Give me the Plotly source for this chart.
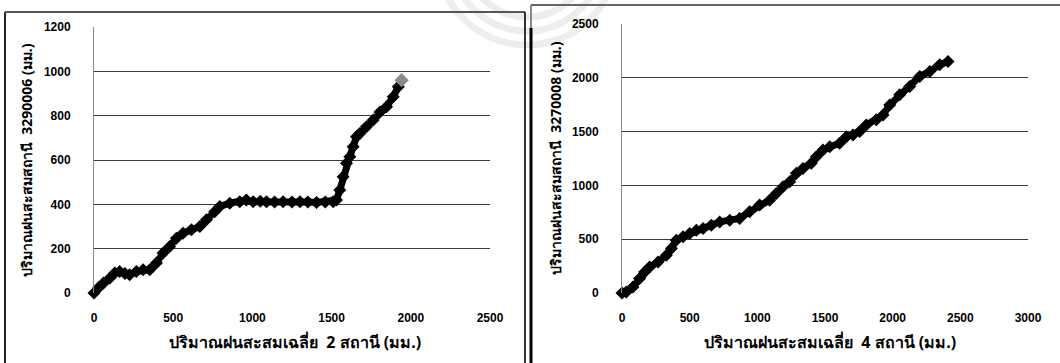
import plotly.graph_objects as go

W, H = 1060, 363

# ---- Data ----
left_x = [0, 30, 60, 99, 131, 162, 195, 225, 267, 310, 352, 394, 436, 478, 520, 562, 615, 668,
          710, 762, 794, 857, 920, 962, 1005, 1050, 1089, 1140, 1194, 1250, 1300, 1350, 1405,
          1460, 1510, 1531, 1552, 1573, 1594, 1615, 1636, 1657, 1678, 1720, 1763, 1805, 1847,
          1889, 1921]
left_y = [0, 25, 45, 67, 90, 97, 88, 82, 97, 105, 105, 135, 180, 210, 247, 270, 285, 300,
          330, 367, 390, 405, 412, 420, 412, 414, 412, 410, 412, 410, 412, 410, 408,
          410, 412, 420, 465, 525, 585, 615, 660, 705, 720, 750, 780, 817, 840,
          885, 930]
left_last_x = [1942]
left_last_y = [960]

right_x = [0, 32, 81, 130, 167, 204, 266, 328, 365, 401, 451, 500, 549, 599, 660, 722, 796,
           869, 943, 1017, 1091, 1140, 1190, 1239, 1288, 1337, 1399, 1436, 1485, 1535, 1608,
           1658, 1707, 1756, 1805, 1879, 1929, 1978, 2052, 2126, 2200, 2274, 2347, 2409]
right_y = [0, 9, 56, 134, 196, 242, 289, 351, 413, 491, 522, 553, 584, 599, 630, 661, 677,
           693, 755, 817, 863, 925, 988, 1034, 1112, 1158, 1205, 1267, 1329, 1360, 1391,
           1453, 1469, 1500, 1562, 1609, 1655, 1748, 1842, 1919, 2012, 2059, 2121, 2152]

left_xtitle = "ปริมาณฝนสะสมเฉลี่ย  2 สถานี (มม.)"
left_ytitle = "ปริมาณฝนสะสมสถานี  3290006 (มม.)"
right_xtitle = "ปริมาณฝนสะสมเฉลี่ย  4 สถานี (มม.)"
right_ytitle = "ปริมาณฝนสะสมสถานี  3270008 (มม.)"


def px(x):
    return x / W


def py(y):
    return 1 - y / H


fig = go.Figure()

mk = dict(symbol="diamond", size=10, color="black")
fig.add_trace(go.Scatter(x=left_x, y=left_y, mode="lines+markers", marker=mk,
                         line=dict(color="black", width=7), xaxis="x", yaxis="y",
                         showlegend=False, hoverinfo="skip", cliponaxis=False))
fig.add_trace(go.Scatter(x=left_last_x, y=left_last_y, mode="markers",
                         marker=dict(symbol="diamond", size=11, color="#8a8a8a"),
                         xaxis="x", yaxis="y", showlegend=False, hoverinfo="skip"))
fig.add_trace(go.Scatter(x=right_x, y=right_y, mode="lines+markers", marker=mk,
                         line=dict(color="black", width=7), xaxis="x2", yaxis="y2",
                         showlegend=False, hoverinfo="skip", cliponaxis=False))

tickf = dict(family="Liberation Sans", size=12, color="black", weight="bold")
common_x = dict(showgrid=False, zeroline=False, showline=False, ticks="", automargin=False,
                tickfont=tickf, ticklabelstandoff=16, fixedrange=True)
common_y = dict(showgrid=True, gridcolor="#3a3a3a", gridwidth=1, zeroline=False, automargin=False,
                showline=True, linecolor="#8a8a8a", linewidth=1, ticks="",
                tickfont=tickf, ticklabelstandoff=20, fixedrange=True)

fig.update_layout(
    width=W, height=H,
    margin=dict(l=0, r=0, t=0, b=0),
    paper_bgcolor="white", plot_bgcolor="white",
    xaxis=dict(domain=[px(94), px(490)], range=[0, 2500], tickvals=[0, 500, 1000, 1500, 2000, 2500],
               anchor="y", **common_x),
    yaxis=dict(domain=[py(293), py(27)], range=[0, 1200], tickvals=[0, 200, 400, 600, 800, 1000, 1200],
               anchor="x", **common_y),
    xaxis2=dict(domain=[px(622), px(1028)], range=[0, 3000],
                tickvals=[0, 500, 1000, 1500, 2000, 2500, 3000], anchor="y2", **common_x),
    yaxis2=dict(domain=[py(293), py(24)], range=[0, 2500], tickvals=[0, 500, 1000, 1500, 2000, 2500],
                anchor="x2", **common_y),
)

xtf = dict(family="Noto Sans, DejaVu Sans, sans-serif", size=16, color="black", weight="bold")
ytf = dict(family="Noto Sans, DejaVu Sans, sans-serif", size=14, color="black", weight="bold")
annots = [
    dict(text=left_xtitle, x=px(295), y=py(342), xref="paper", yref="paper", showarrow=False,
         font=xtf, xanchor="center", yanchor="middle"),
    dict(text=right_xtitle, x=px(830), y=py(342), xref="paper", yref="paper", showarrow=False,
         font=xtf, xanchor="center", yanchor="middle"),
    dict(text=left_ytitle, x=px(26), y=py(160), xref="paper", yref="paper", showarrow=False,
         font=ytf, textangle=-90, xanchor="center", yanchor="middle"),
    dict(text=right_ytitle, x=px(556), y=py(158), xref="paper", yref="paper", showarrow=False,
         font=ytf, textangle=-90, xanchor="center", yanchor="middle"),
]
fig.update_layout(annotations=annots)

# panel frames
shapes = []
def vline(x, y0, y1, w=2, c="black"):
    shapes.append(dict(type="line", xref="paper", yref="paper", x0=px(x), x1=px(x),
                       y0=py(y0), y1=py(y1), line=dict(color=c, width=w)))
def hline(y, x0, x1, w=2, c="black"):
    shapes.append(dict(type="line", xref="paper", yref="paper", x0=px(x0), x1=px(x1),
                       y0=py(y), y1=py(y), line=dict(color=c, width=w)))

# faint watermark arcs (top centre)
for r in (62, 76, 90):
    shapes.append(dict(type="circle", xref="paper", yref="paper",
                       x0=px(527 - r), x1=px(527 + r), y0=py(-45 + r), y1=py(-45 - r),
                       line=dict(color="rgba(0,0,0,0.07)", width=7), layer="below"))

vline(5, 12, 363, 2, "#222")
hline(12, 5, 525, 2, "#555")
vline(525, 12, 363, 2, "#333")
vline(531, 28, 363, 3, "black")
vline(531, 5, 28, 2, "#888")
hline(5, 531, 1060, 2, "#666")
fig.update_layout(shapes=shapes)

fig.write_html("out.html", config={"displayModeBar": False},
               post_script="document.body.style.margin='0';document.body.style.overflow='hidden';")
